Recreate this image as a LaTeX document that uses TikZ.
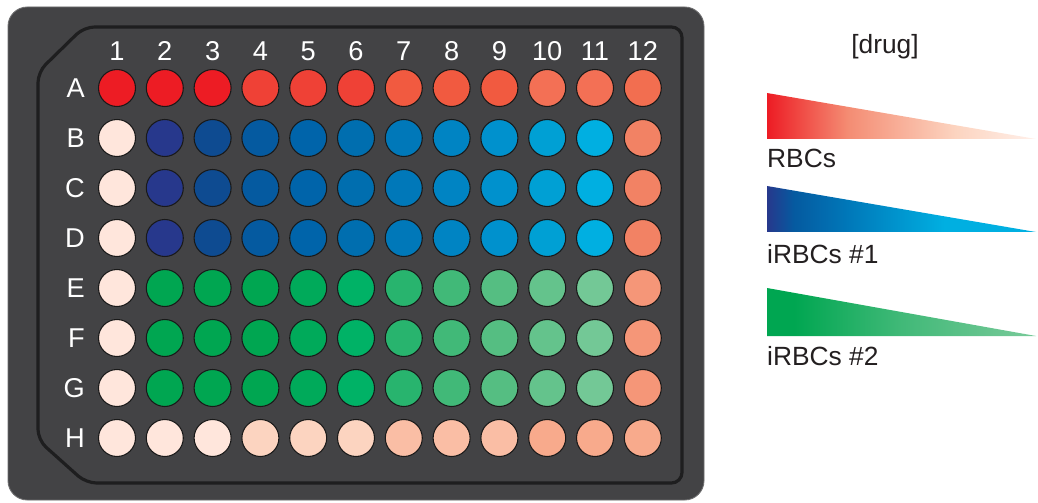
\documentclass[tikz,border=0pt]{standalone}
\usepackage{fontspec}
\setmainfont{Liberation Sans}
\usetikzlibrary{positioning, calc}

% plate and well colours
\definecolor{platebg}{RGB}{67,67,69}
\definecolor{plateline}{RGB}{30,30,31}
\definecolor{wellline}{RGB}{25,25,25}
\definecolor{inkgrey}{RGB}{35,31,32}
\definecolor{rA}{RGB}{237,28,36}
\definecolor{rB}{RGB}{239,65,54}
\definecolor{rC}{RGB}{241,90,64}
\definecolor{rD}{RGB}{243,112,85}
\definecolor{rE}{RGB}{242,110,80}
\definecolor{pale}{RGB}{255,230,220}
\definecolor{pA}{RGB}{252,212,192}
\definecolor{pB}{RGB}{250,190,165}
\definecolor{pC}{RGB}{248,170,140}
\definecolor{salmon}{RGB}{242,130,100}
\definecolor{salmonB}{RGB}{245,150,120}
\definecolor{bA}{RGB}{39,56,140}
\definecolor{bB}{RGB}{14,75,145}
\definecolor{bC}{RGB}{5,90,160}
\definecolor{bD}{RGB}{0,100,170}
\definecolor{bE}{RGB}{0,110,175}
\definecolor{bF}{RGB}{0,120,185}
\definecolor{bG}{RGB}{0,132,195}
\definecolor{bH}{RGB}{0,145,205}
\definecolor{bI}{RGB}{0,160,212}
\definecolor{bJ}{RGB}{0,175,225}
\definecolor{gA}{RGB}{0,166,81}
\definecolor{gB}{RGB}{0,170,90}
\definecolor{gC}{RGB}{0,178,102}
\definecolor{gD}{RGB}{40,180,110}
\definecolor{gE}{RGB}{65,185,120}
\definecolor{gF}{RGB}{85,190,130}
\definecolor{gG}{RGB}{100,195,140}
\definecolor{gH}{RGB}{115,200,150}
\definecolor{redend}{RGB}{255,240,234}
\definecolor{redmid}{RGB}{244,140,115}

\pgfdeclarehorizontalshading{redramp}{100bp}{color(0bp)=(rA); color(25bp)=(rA); color(40bp)=(redmid); color(60bp)=(pA); color(75bp)=(redend); color(100bp)=(redend)}
\pgfdeclarehorizontalshading{blueramp}{100bp}{color(0bp)=(bA); color(25bp)=(bA); color(30bp)=(bC); color(40bp)=(bF); color(58bp)=(bJ); color(75bp)=(bJ); color(100bp)=(bJ)}
\pgfdeclarehorizontalshading{greenramp}{100bp}{color(0bp)=(gA); color(25bp)=(gA); color(30bp)=(gA); color(50bp)=(gE); color(72bp)=(gH); color(100bp)=(gH)}

\begin{document}
\begin{tikzpicture}[
  x=0.02cm, y=-0.02cm,
  well/.style={circle, draw=wellline, line width=0.6pt, minimum size=37*0.02cm, inner sep=0pt},
  platelabel/.style={text=white, font=\fontsize{15.5}{18}\selectfont},
  legendlabel/.style={text=inkgrey, font=\fontsize{15}{18}\selectfont}
]
\useasboundingbox (0,0) rectangle (1038,503);

% plate body
\fill[platebg, draw=gray!70!platebg, line width=0.5pt, rounded corners=11pt] (8,7) rectangle (704,500);
\draw[plateline, line width=1.8pt, rounded corners=6pt]
  (38,72) -- (84,27) -- (682,27) -- (682,483) -- (86,483) -- (38,440) -- cycle;

% row A
\foreach \col [count=\i] in {rA,rA,rA,rB,rB,rB,rC,rC,rC,rD,rD,rE}
  \node[well, fill=\col] (A\i) at ({117+(\i-1)*47.8},88) {};
% rows B-D
\foreach \row/\y in {B/138,C/188,D/238}
  \foreach \col [count=\i] in {pale,bA,bB,bC,bD,bE,bF,bG,bH,bI,bJ,salmon}
    \node[well, fill=\col] (\row\i) at ({117+(\i-1)*47.8},\y) {};
% rows E-G
\foreach \row/\y in {E/288,F/338,G/388}
  \foreach \col [count=\i] in {pale,gA,gA,gA,gB,gC,gD,gE,gF,gG,gH,salmonB}
    \node[well, fill=\col] (\row\i) at ({117+(\i-1)*47.8},\y) {};
% row H
\foreach \col [count=\i] in {pale,pale,pale,pA,pA,pA,pB,pB,pB,pC,pC,pC}
  \node[well, fill=\col] (H\i) at ({117+(\i-1)*47.8},438) {};

% column and row labels
\foreach \i in {1,...,12}
  \node[platelabel] (col\i) at ({117+(\i-1)*47.8},51) {\i};
\foreach \row in {A,...,H}
  \node[platelabel, left=4pt of \row1] (row\row) {\row};

% legend
\node[legendlabel] (drug) at (885,47) {[drug]};
\shade[shading=redramp] (767,93) -- (767,139) -- (1036,139) -- cycle;
\node[legendlabel, anchor=west] (rbc) at (761,158) {RBCs};
\shade[shading=blueramp] (767,186) -- (767,232) -- (1036,232) -- cycle;
\node[legendlabel, anchor=west] (irbcA) at (761,254) {iRBCs \#1};
\shade[shading=greenramp] (767,288) -- (767,336) -- (1036,336) -- cycle;
\node[legendlabel, anchor=west] (irbcB) at (761,356) {iRBCs \#2};

\end{tikzpicture}
\end{document}
